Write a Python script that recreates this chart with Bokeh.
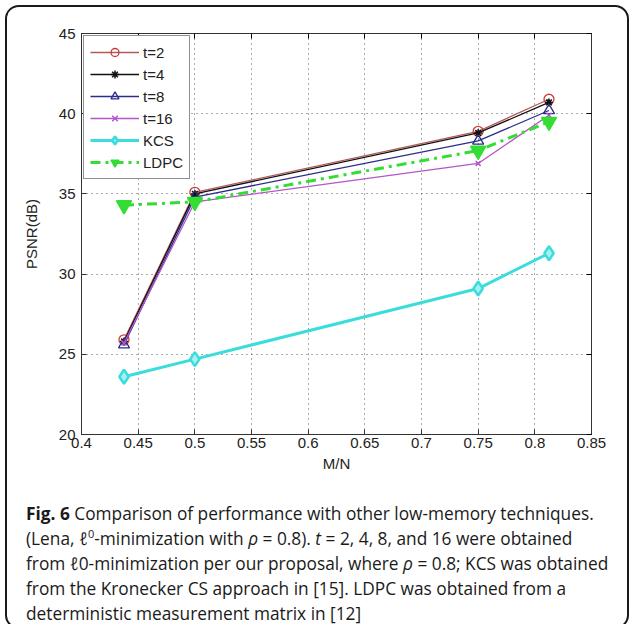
from bokeh.plotting import figure
from bokeh.models import FixedTicker, LinearAxis, Div, Range1d, CustomJSTickFormatter
from bokeh.layouts import column
from bokeh.embed import file_html
from bokeh.resources import INLINE

# ---- data ----
x_ratio = [0.4375, 0.5, 0.75, 0.8125]
psnr_t2 = [25.9, 35.1, 38.9, 40.9]
psnr_t4 = [25.8, 35.0, 38.8, 40.7]
psnr_t8 = [25.6, 34.8, 38.3, 40.2]
psnr_t16 = [25.7, 34.5, 36.9, 39.9]
psnr_kcs = [23.6, 24.7, 29.1, 31.3]
psnr_ldpc = [34.3, 34.5, 37.7, 39.5]

xtick_vals = [0.4, 0.45, 0.5, 0.55, 0.6, 0.65, 0.7, 0.75, 0.8, 0.85]
xtick_labels = ["0.4", "0.45", "0.5", "0.55", "0.6", "0.65", "0.7", "0.75", "0.8", "0.85"]
ytick_vals = [20, 25, 30, 35, 40, 45]
ytick_labels = ["20", "25", "30", "35", "40", "45"]

FONT = "Liberation Sans"

p = figure(width=610, height=482, output_backend="svg", toolbar_location=None,
           x_range=Range1d(0.4, 0.85), y_range=Range1d(20, 45),
           min_border_left=74, min_border_right=26, min_border_top=26, min_border_bottom=55,
           background_fill_color="white", border_fill_color="white")

p.outline_line_color = "#333333"
p.outline_line_width = 1

for ax in (p.xaxis[0], p.yaxis[0]):
    ax.major_label_text_font = FONT
    ax.major_label_text_font_size = "15px"
    ax.major_label_text_color = "#222222"
    ax.axis_label_text_font = FONT
    ax.axis_label_text_font_size = "15px"
    ax.axis_label_text_font_style = "normal"
    ax.axis_label_text_color = "#222222"
    ax.major_tick_in = 5
    ax.major_tick_out = 0
    ax.minor_tick_line_color = None
    ax.axis_line_color = "#333333"
    ax.major_tick_line_color = "#333333"

p.xaxis[0].ticker = FixedTicker(ticks=xtick_vals)
p.xaxis[0].major_label_overrides = dict(zip(xtick_vals, xtick_labels))
p.xaxis[0].axis_label = "M/N"
p.xaxis[0].major_label_standoff = 3
p.xaxis[0].axis_label_standoff = 4

p.yaxis[0].ticker = FixedTicker(ticks=ytick_vals)
p.yaxis[0].major_label_overrides = dict(zip(ytick_vals, ytick_labels))
p.yaxis[0].axis_label = "PSNR(dB)"
p.yaxis[0].major_label_standoff = 6
p.yaxis[0].axis_label_standoff = 16

top_ax = LinearAxis(ticker=FixedTicker(ticks=xtick_vals), formatter=CustomJSTickFormatter(code="return ''"),
                    major_tick_in=5, major_tick_out=0, minor_tick_line_color=None,
                    axis_line_color="#333333", major_label_standoff=0,
                    major_label_text_font_size="1px")
right_ax = LinearAxis(ticker=FixedTicker(ticks=ytick_vals), formatter=CustomJSTickFormatter(code="return ''"),
                      major_tick_in=5, major_tick_out=0, minor_tick_line_color=None,
                      axis_line_color="#333333", major_label_standoff=0,
                      major_label_text_font_size="1px")
p.add_layout(top_ax, "above")
p.add_layout(right_ax, "right")

p.xgrid.ticker = FixedTicker(ticks=xtick_vals)
p.ygrid.ticker = FixedTicker(ticks=ytick_vals)
p.grid.grid_line_color = "#444444"
p.grid.grid_line_dash = "1 4"
p.grid.grid_line_width = 1
p.grid.grid_line_alpha = 0.9

# ---- series ----
c2 = "#b45a5a"
p.line(x_ratio, psnr_t2, line_color=c2, line_width=1.3, legend_label="t=2")
p.scatter(x_ratio, psnr_t2, marker="circle", size=10, line_color="#c83c3c",
          fill_color=None, line_width=1.3, legend_label="t=2")

c4 = "#111111"
p.line(x_ratio, psnr_t4, line_color=c4, line_width=1.3, legend_label="t=4")
p.scatter(x_ratio, psnr_t4, marker="asterisk", size=8, line_color=c4,
          line_width=1.5, legend_label="t=4")

c8 = "#2c2c8c"
p.line(x_ratio, psnr_t8, line_color=c8, line_width=1.3, legend_label="t=8")
p.scatter(x_ratio, psnr_t8, marker="triangle", size=11, line_color=c8,
          fill_color=None, line_width=1.3, legend_label="t=8")

c16 = "#b455c8"
p.line(x_ratio, psnr_t16, line_color=c16, line_width=1.3, legend_label="t=16")
p.scatter(x_ratio, psnr_t16, marker="x", size=7, line_color=c16,
          line_width=1.5, legend_label="t=16")

ck = "#3adcdc"
p.line(x_ratio, psnr_kcs, line_color=ck, line_width=3, legend_label="KCS")
p.scatter(x_ratio, psnr_kcs, marker="diamond", size=14, line_color=ck,
          fill_color="#a8f0f0", line_width=2.5, legend_label="KCS")

cl = "#33dd33"
p.line(x_ratio, psnr_ldpc, line_color=cl, line_width=3, line_dash="10 5 3 5",
       legend_label="LDPC")
p.scatter(x_ratio, psnr_ldpc, marker="inverted_triangle", size=15, line_color=cl,
          fill_color=cl, line_width=1.5, legend_label="LDPC")

lg = p.legend[0]
lg.location = "top_left"
lg.margin = 2
lg.padding = 6
lg.spacing = 2
lg.glyph_width = 49
lg.glyph_height = 20
lg.label_standoff = 4
lg.label_text_font = FONT
lg.label_text_font_size = "15px"
lg.label_text_color = "#222222"
lg.label_height = 20
lg.border_line_color = "#222222"
lg.border_line_width = 1
lg.background_fill_color = "white"
lg.background_fill_alpha = 1.0

caption_html = (
    "<b>Fig. 6</b> Comparison of performance with other low-memory techniques.<br>"
    "(Lena, <i>&#8467;</i><sup style='font-size:11px;line-height:0'>0</sup>-minimization with <i>&rho;</i> = 0.8). "
    "<i>t</i> = 2, 4, 8, and 16 were obtained<br>"
    "from &#8467;0-minimization per our proposal, where <i>&rho;</i> = 0.8; KCS was obtained<br>"
    "from the Kronecker CS approach in [15]. LDPC was obtained from a<br>"
    "deterministic measurement matrix in [12]"
)
caption = Div(text=caption_html, width=610, height=128,
              styles={"font-family": "'Open Sans'", "font-size": "17.3px",
                      "line-height": "25px", "color": "#1a1a1a",
                      "padding-left": "14px", "padding-top": "7px",
                      "white-space": "nowrap", "box-sizing": "border-box"})

layout = column(p, caption, spacing=0,
                styles={"border": "2px solid #1a1a1a", "border-radius": "14px",
                        "overflow": "hidden", "background": "white",
                        "transform": "translate(5px, 5px)"})

open("out.html", "w").write(file_html(layout, INLINE))
